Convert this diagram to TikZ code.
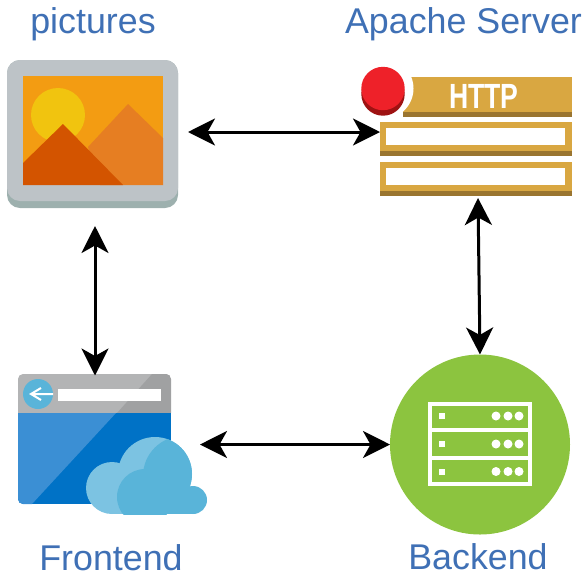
\documentclass[tikz,border=0pt]{standalone}
\usepackage{fontspec}
\usepackage{graphicx}
\setmainfont{Liberation Sans}
\usetikzlibrary{arrows.meta}
\definecolor{labelblue}{HTML}{3F70B5}
\definecolor{frameg}{HTML}{BDC3C7}
\definecolor{frameb}{HTML}{9DB0AE}
\definecolor{skyor}{HTML}{F39C12}
\definecolor{sunye}{HTML}{F1C40F}
\definecolor{mtnlt}{HTML}{E67E22}
\definecolor{mtndk}{HTML}{D35400}
\definecolor{httpg}{HTML}{D9A741}
\definecolor{httpd}{HTML}{9A7530}
\definecolor{redtop}{HTML}{EE2129}
\definecolor{redbot}{HTML}{9E1212}
\definecolor{wingr}{HTML}{B3B4B5}
\definecolor{wingd}{HTML}{A0A1A2}
\definecolor{winbl}{HTML}{0072C6}
\definecolor{winlt}{HTML}{3B8FD4}
\definecolor{cloudl}{HTML}{7CC3E2}
\definecolor{cloudd}{HTML}{59B4D9}
\definecolor{srvgreen}{HTML}{8CC43F}
\tikzset{
  lbl/.style={anchor=base,text=labelblue,font=\fontsize{35.8}{36}\selectfont,inner sep=0pt},
  holder/.style={inner sep=0pt,outer sep=0pt},
  link/.style={line width=3pt,{Stealth[length=27pt,width=27pt,inset=7.5pt]}-{Stealth[length=27pt,width=27pt,inset=7.5pt]}},
  srvline/.style={draw=white,line width=3.4pt}
}
\begin{document}
\begin{tikzpicture}[x=1pt,y=-1pt]
\useasboundingbox (0,0) rectangle (585,576);
% pictures icon
\fill[frameb,rounded corners=13pt] (7,60) rectangle (178,208);
\fill[frameg,rounded corners=13pt] (7,60) rectangle (178,201);
\fill[skyor] (23,76) rectangle (163,185);
\fill[sunye] (58,115) circle (27);
\fill[mtnlt] (88,147) -- (128,104) -- (163,138) -- (163,185) -- (100,185) -- cycle;
\fill[mtndk] (23,163) -- (63,124) -- (123,185) -- (23,185) -- cycle;
% http icon
\fill[httpg] (403,77) rectangle (572,117);
\fill[httpd] (403,112) rectangle (572,117);
\fill[white] (383,88.5) circle (30.5);
\node[anchor=base,text=white,font=\bfseries\fontsize{35}{35}\selectfont,inner sep=0pt] (httplabel) at (484,108) {\scalebox{.76}[1]{HTTP}};
\fill[httpg] (380,122) rectangle (572,156);
\fill[httpd] (380,151) rectangle (572,156);
\fill[white] (386,128) rectangle (565,145);
\fill[httpg] (380,162) rectangle (572,196);
\fill[httpd] (380,191) rectangle (572,196);
\fill[white] (386,168) rectangle (565,185);
\fill[redbot] (383,94) circle (21.7);
\fill[redtop] (383,88.5) circle (21.7);
% frontend icon
\begin{scope}
\clip[rounded corners=5pt] (18,374) rectangle (171,504);
\fill[wingr] (18,374) rectangle (171,413);
\fill[wingd] (152,374) -- (171,374) -- (171,413) -- (117,413) -- cycle;
\fill[winbl] (18,413) rectangle (171,504);
\fill[winlt] (18,413) -- (116,413) -- (32,504) -- (18,504) -- cycle;
\end{scope}
\fill[cloudd] (38,394) circle (15);
\fill[white] (58,389) rectangle (161,401);
\draw[white,line width=2pt] (53,394) -- (31,394) (41,388) -- (31,394) -- (41,400);
\fill[cloudl] (112,488) circle (26);
\fill[cloudl] (155,474) circle (37);
\fill[cloudl] (112,490) rectangle (193,514);
\fill[cloudd] (193,500) circle (14);
\begin{scope}
\clip (155,474) circle (37);
\fill[cloudd] (183,476) circle (40);
\end{scope}
\begin{scope}
\clip (100,460) rectangle (200,514);
\fill[cloudd] (145,497) circle (28);
\end{scope}
\fill[cloudd] (145,490) rectangle (193,514);
% backend icon
\node[circle,fill=srvgreen,minimum size=180pt,inner sep=0pt,outer sep=0pt] (backend) at (480,444.5) {};
\draw[srvline] (430,404) rectangle (530,484);
\draw[srvline] (430,430) -- (530,430);
\draw[srvline] (430,458) -- (530,458);
\foreach \yy in {416,444,471.5} {
  \fill[white] (439,\yy-3) rectangle (445,\yy+3);
  \foreach \xx in {496,508,519} \fill[white] (\xx,\yy) circle (4.5);
}
% anchors for connectors
\node[holder,minimum width=186pt,minimum height=188pt] (pictures) at (95,132) {};
\node[holder,minimum width=192pt,minimum height=132pt] (apache) at (476,132) {};
\node[holder,minimum width=210pt,minimum height=138pt] (frontend) at (95,444.5) {};
% connectors
\coordinate (apachesouth) at (478,198);
\draw[link] (pictures.east) -- (apache.west);
\draw[link] (apachesouth) -- (backend.north);
\draw[link] (pictures.south) -- (frontend.north);
\draw[link] (frontend.east) -- (backend.west);
% labels
\node[lbl] (l1) at (93,33) {pictures};
\node[lbl] (l2) at (463.5,33) {Apache Server};
\node[lbl] (l3) at (111,570) {Frontend};
\node[lbl] (l4) at (478,569) {Backend};
\end{tikzpicture}
\end{document}
